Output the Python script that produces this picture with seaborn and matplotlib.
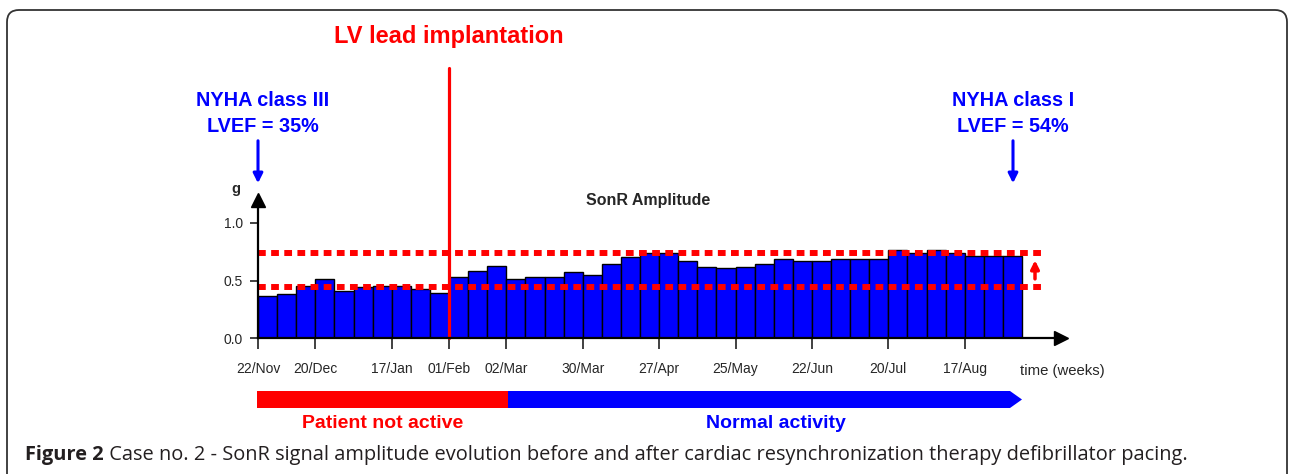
import matplotlib
matplotlib.use("Agg")
import matplotlib.pyplot as plt
import seaborn as sns
import pandas as pd
from matplotlib.patches import FancyBboxPatch, Rectangle, Polygon, FancyArrowPatch

# ---------------- data ----------------
weeks = list(range(40))
amplitude = [0.365, 0.38, 0.455, 0.51, 0.41, 0.44, 0.45, 0.45, 0.43, 0.39,
             0.53, 0.585, 0.626, 0.51, 0.528, 0.528, 0.577, 0.548, 0.64, 0.707,
             0.737, 0.737, 0.67, 0.62, 0.606, 0.62, 0.643, 0.69, 0.67, 0.67,
             0.69, 0.69, 0.69, 0.765, 0.742, 0.765, 0.742, 0.713, 0.713, 0.713]
tick_boundaries = [0, 3, 7, 10, 13, 17, 21, 25, 29, 33, 37]
tick_labels = ["22/Nov", "20/Dec", "17/Jan", "01/Feb", "02/Mar", "30/Mar",
               "27/Apr", "25/May", "22/Jun", "20/Jul", "17/Aug"]
y_ticks = [0.0, 0.5, 1.0]
y_tick_labels = ["0.0", "0.5", "1.0"]
band_low = 0.447
band_high = 0.737
implant_week = 10
arrow_low, arrow_high = 0.49, 0.70

df = pd.DataFrame({"week": weeks, "amp": amplitude})

W, H = 1290, 474
sns.set_theme(style="white")
plt.rcParams['font.family'] = ['Liberation Sans Narrow', 'Liberation Sans', 'DejaVu Sans']
fig = plt.figure(figsize=(W / 100, H / 100), dpi=100)
fig.patch.set_facecolor("white")


def px(x):
    return x / W


def py(y):
    return 1 - y / H


PX_PER_BAR = 19.1
PX_PER_UNIT = 115.0
x0_pix, y0_pix = 258, 338
ax_right, ax_top = 1061, 200
ax = fig.add_axes([px(x0_pix), py(y0_pix), (ax_right - x0_pix) / W, (y0_pix - ax_top) / H])
ax.set_facecolor("none")

sns.barplot(data=df, x="week", y="amp", color="#0000ff", saturation=1, width=1,
            edgecolor="black", linewidth=1.0, ax=ax, zorder=2)

ax.set_xlim(-0.5, -0.5 + (ax_right - x0_pix) / PX_PER_BAR)
ax.set_ylim(0, (y0_pix - ax_top) / PX_PER_UNIT)
ax.set_xlabel("")
ax.set_ylabel("")
for s in ["top", "right"]:
    ax.spines[s].set_visible(False)
for s in ["left", "bottom"]:
    ax.spines[s].set_color("black")
    ax.spines[s].set_linewidth(1.6)
    ax.spines[s].set_zorder(5)

ax.set_xticks([b - 0.5 for b in tick_boundaries])
ax.set_xticklabels(tick_labels, fontsize=10)
ax.set_xticks([b - 0.5 for b in range(41)], minor=True)
ax.tick_params(axis="x", which="major", direction="out", length=8, width=1.3, color="#333333", pad=9)
ax.tick_params(axis="x", which="minor", direction="out", length=3, width=1.0, color="#333333")
ax.set_yticks(y_ticks)
ax.set_yticklabels(y_tick_labels, fontsize=10)
ax.tick_params(axis="y", which="major", direction="out", length=6, width=1.3, color="#333333", pad=5)
ax.tick_params(bottom=True, left=True)

# axis arrowheads
ax.plot([0], [1], marker="^", color="black", ms=10, transform=ax.transAxes, clip_on=False, zorder=6)
ax.plot([1], [0], marker=">", color="black", ms=10, transform=ax.transAxes, clip_on=False, zorder=6)

# dotted band
xr = -0.5 + (1045 - x0_pix) / PX_PER_BAR
for yv in (band_high, band_low):
    ax.plot([-0.5, xr], [yv, yv], color="red", lw=4.3, linestyle=(0, (1.3, 0.9)),
            clip_on=False, zorder=4, solid_capstyle="butt", dash_capstyle="butt")

# small red arrow at right
xa = -0.5 + (1035 - x0_pix) / PX_PER_BAR
ax.annotate("", xy=(xa, arrow_high), xytext=(xa, arrow_low),
            arrowprops=dict(arrowstyle="-|>", color="red", lw=2.5, mutation_scale=12),
            annotation_clip=False)

# red vertical implant line
ax.plot([implant_week - 0.5] * 2, [0, (y0_pix - 68) / PX_PER_UNIT], color="red", lw=2.3,
        clip_on=False, zorder=4)

# texts in chart
fig.text(px(236), py(189), "g", fontsize=10.5, weight="bold", ha="center", va="center")
fig.text(px(648), py(201), "SonR Amplitude", fontsize=11.5, weight="bold", ha="center", va="center")
fig.text(px(1020), py(370.5), "time (weeks)", fontsize=10.7, ha="left", va="center")

fig.text(px(449), py(37), "LV lead implantation", fontsize=17, weight="bold", color="red",
         ha="center", va="center")
blue = "#0000ff"
for cx, l1, l2 in [(263, "NYHA class III", "LVEF = 35%"), (1013, "NYHA class I", "LVEF = 54%")]:
    fig.text(px(cx), py(101), l1, fontsize=14.3, weight="bold", color=blue, ha="center", va="center")
    fig.text(px(cx), py(127), l2, fontsize=14.3, weight="bold", color=blue, ha="center", va="center")
for xa_pix in (258, 1013):
    fig.add_artist(FancyArrowPatch(
        (px(xa_pix), py(138)), (px(xa_pix), py(186)), transform=fig.transFigure,
        arrowstyle="-|>", mutation_scale=14, color=blue, lw=2.2))

# activity bar
fig.add_artist(Rectangle((px(257), py(408)), px(508) - px(257), py(391) - py(408),
                         transform=fig.transFigure, facecolor="red", edgecolor="none"))
fig.add_artist(Polygon([(px(508), py(391)), (px(1010), py(391)), (px(1022), py(399.5)),
                        (px(1010), py(408)), (px(508), py(408))],
                       closed=True, transform=fig.transFigure, facecolor=blue, edgecolor="none"))
fig.text(px(383), py(423), "Patient not active", fontsize=14, weight="bold", color="red",
         ha="center", va="center")
fig.text(px(776), py(423), "Normal activity", fontsize=14, weight="bold", color=blue,
         ha="center", va="center")

# caption
cap_color = "#231f20"
t1 = fig.text(px(25), py(455), "Figure 2", fontsize=14.4, weight="bold", ha="left", va="center",
              color=cap_color, family=["Open Sans", "DejaVu Sans"])
ax.annotate(" Case no. 2 - SonR signal amplitude evolution before and after cardiac "
            "resynchronization therapy defibrillator pacing.",
            xy=(1, 0), xycoords=t1, ha="left", va="bottom", fontsize=14.4, color=cap_color,
            family=["Open Sans", "DejaVu Sans"], annotation_clip=False)

# frame
fig.add_artist(FancyBboxPatch((0.07, -0.3), 12.8, 4.64 + 0.3, transform=fig.dpi_scale_trans,
                              boxstyle="round,pad=0,rounding_size=0.12", facecolor="none",
                              edgecolor="#333333", lw=1.3))

fig.savefig("out.png", dpi=100)
